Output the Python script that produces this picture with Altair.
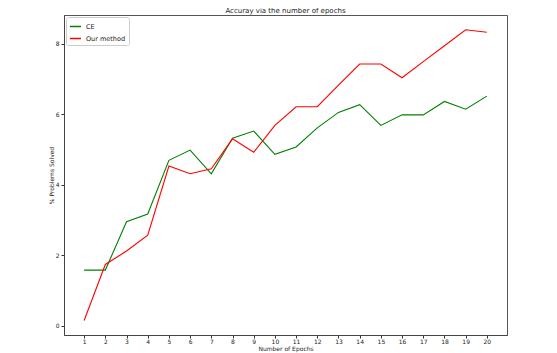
import altair as alt
import pandas as pd

epochs = list(range(1, 21))
ce = [1.58, 1.58, 2.95, 3.17, 4.69, 4.98, 4.31, 5.32, 5.52, 4.86,
      5.07, 5.61, 6.05, 6.27, 5.68, 5.98, 5.98, 6.36, 6.14, 6.51]
ours = [0.15, 1.74, 2.12, 2.57, 4.53, 4.31, 4.45, 5.30, 4.92, 5.68,
        6.21, 6.21, 6.82, 7.42, 7.42, 7.03, 7.49, 7.94, 8.39, 8.32]
series = ["CE", "Our method"]
colors = ["#008000", "#ff0000"]

rows = []
for e, v in zip(epochs, ce):
    rows.append({"epoch": e, "value": v, "method": series[0]})
for e, v in zip(epochs, ours):
    rows.append({"epoch": e, "value": v, "method": series[1]})
df = pd.DataFrame(rows)

font = "DejaVu Sans"

chart = alt.Chart(df).mark_line(strokeWidth=1.1).encode(
    x=alt.X("epoch:Q",
            scale=alt.Scale(domain=[0.05, 20.95], nice=False, zero=False),
            axis=alt.Axis(title="Number of Epochs", values=epochs, grid=False,
                          labelFontSize=6, titleFontSize=6, titleFontWeight="normal",
                          tickSize=3, tickColor="#333", domainColor="#444",
                          labelColor="#222", titleColor="#222", labelFont=font,
                          titleFont=font, titleY=13, titleBaseline="middle",
                          labelPadding=0.5)),
    y=alt.Y("value:Q",
            scale=alt.Scale(domain=[-0.26, 8.81], nice=False, zero=False),
            axis=alt.Axis(title="% Problems Solved", values=[0, 2, 4, 6, 8], grid=False,
                          labelFontSize=6, titleFontSize=6, titleFontWeight="normal",
                          tickSize=3, tickColor="#333", domainColor="#444",
                          labelColor="#222", titleColor="#222", labelFont=font,
                          titleFont=font, titleX=-13, titleBaseline="middle",
                          labelPadding=2)),
    color=alt.Color("method:N",
                    scale=alt.Scale(domain=series, range=colors),
                    legend=alt.Legend(title=None, orient="top-left", symbolType="stroke",
                                      symbolStrokeWidth=1.5, symbolSize=120,
                                      labelFontSize=6.5, labelFont=font, labelColor="#222",
                                      fillColor="white", strokeColor="#ccc",
                                      padding=3, cornerRadius=2, offset=2,
                                      rowPadding=2)),
).properties(
    width=443, height=320,
    title=alt.TitleParams("Accuray via the number of epochs", fontSize=7, font=font,
                          fontWeight="normal", color="#222", offset=1),
    autosize=alt.AutoSizeParams(type="none"),
    padding={"left": 56, "top": 7, "right": 40, "bottom": 18},
).configure_view(stroke="#555", strokeWidth=1)

chart.save("out.html", embed_options={"renderer": "svg", "actions": False})
